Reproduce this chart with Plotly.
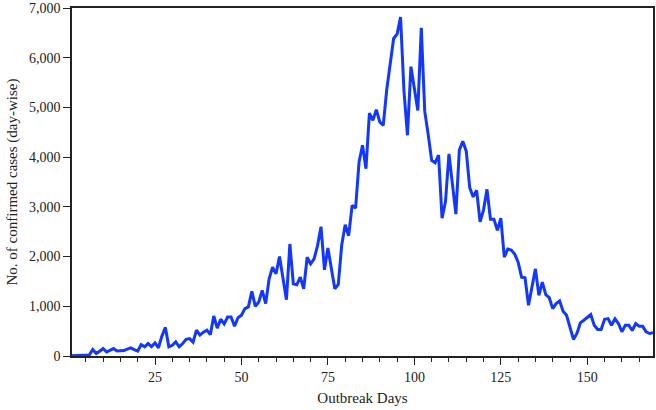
import plotly.graph_objects as go

# day-wise confirmed cases
days = list(range(1, 170))
cases = [
    3, 5, 8, 10, 15, 20, 130, 50, 95, 150,
    80, 110, 150, 100, 110, 110, 140, 165, 130, 100,
    230, 185, 250, 190, 265, 165, 400, 575, 185, 215,
    285, 185, 250, 335, 350, 280, 520, 420, 480, 520,
    430, 805, 560, 740, 645, 785, 785, 600, 770, 820,
    953, 987, 1300, 1000, 1087, 1320, 1053, 1553, 1787, 1653,
    2000, 1520, 1133, 2253, 1453, 1433, 1587, 1353, 1987, 1853,
    1953, 2220, 2600, 1733, 2173, 1753, 1353, 1440, 2240, 2640,
    2420, 3030, 2973, 3900, 4240, 3767, 4887, 4740, 4953, 4707,
    4640, 5353, 5820, 6387, 6473, 6820, 5320, 4440, 5820, 5373,
    4940, 6600, 4920, 4453, 3933, 3887, 4040, 2773, 3107, 4067,
    3487, 2853, 4140, 4320, 4120, 3387, 3200, 3333, 2700, 2940,
    3353, 2753, 2753, 2530, 2773, 1987, 2153, 2133, 2053, 1887,
    1587, 1573, 1020, 1353, 1753, 1220, 1487, 1233, 1173, 953,
    1053, 1107, 900, 820, 553, 333, 453, 667, 720, 773,
    833, 620, 533, 533, 740, 753, 620, 747, 653, 487,
    620, 620, 513, 653, 600, 600, 487, 453, 470,
]

x_ticks = [25, 50, 75, 100, 125, 150]
y_ticks = [0, 1000, 2000, 3000, 4000, 5000, 6000, 7000]

serif = "Liberation Serif, Times New Roman, serif"

fig = go.Figure()
fig.add_trace(go.Scatter(
    x=days, y=cases, mode="lines",
    line=dict(color="#1238ff", width=3),
    hoverinfo="x+y",
))

fig.update_layout(
    width=656, height=410,
    margin=dict(l=72, r=1, t=6, b=54),
    plot_bgcolor="white", paper_bgcolor="white",
    showlegend=False,
    font=dict(family=serif, size=14, color="#222"),
)

fig.update_xaxes(
    range=[1, 169],
    tickvals=x_ticks,
    ticks="outside", ticklen=7, tickcolor="#222",
    minor=dict(dtick=5, tick0=0, ticks="outside", ticklen=4, tickcolor="#222"),
    showgrid=False, zeroline=False,
    showline=True, linecolor="#222", linewidth=1.5, mirror=True,
    title=dict(text="Outbreak Days", standoff=9, font=dict(size=15)),
    tickfont=dict(size=14),
    ticklabeloverflow="allow",
)

fig.update_yaxes(
    range=[0, 7000],
    tickvals=y_ticks, tickformat=",",
    ticks="outside", ticklen=7, tickcolor="#222",
    showgrid=False, zeroline=False,
    showline=True, linecolor="#222", linewidth=1.5, mirror=True,
    title=dict(text="No. of confirmed cases (day-wise)", standoff=8, font=dict(size=15)),
    tickfont=dict(size=14),
    ticklabeloverflow="allow",
)

# page body has a default 8px margin; drop it so the figure sits at 0,0
fig.write_html("out.html", config={"displayModeBar": False},
               post_script="document.body.style.margin='0';")
